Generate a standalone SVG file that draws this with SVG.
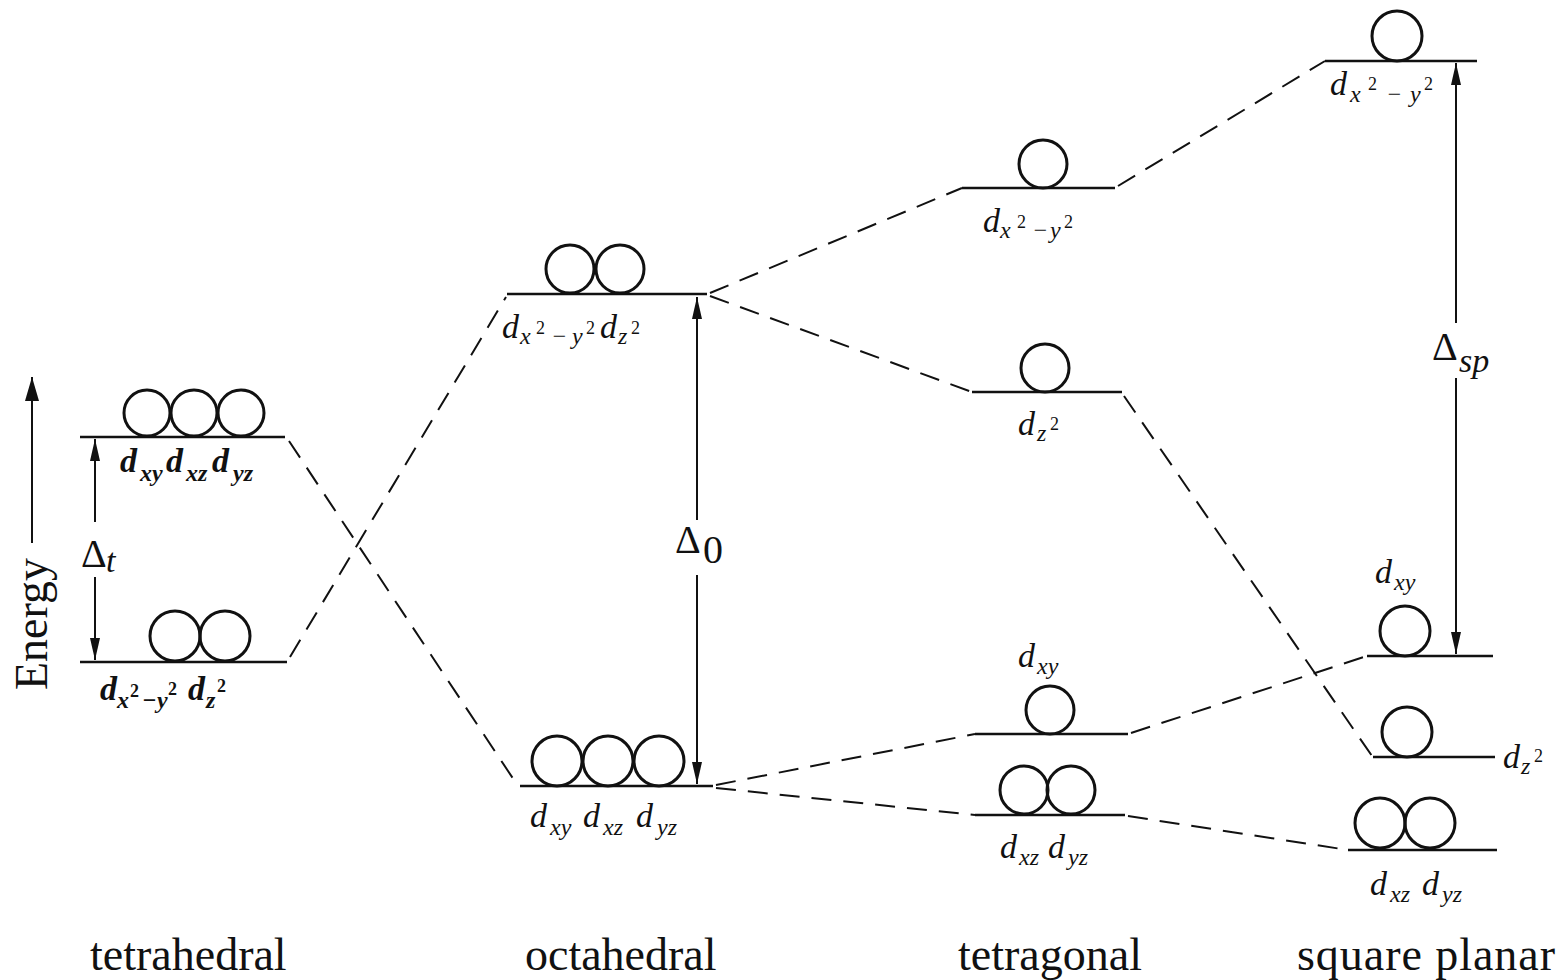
<svg xmlns="http://www.w3.org/2000/svg" width="1560" height="980" viewBox="0 0 1560 980">
<defs>
<marker id="ah" viewBox="0 0 22 10" refX="22" refY="5" markerWidth="22" markerHeight="10" markerUnits="userSpaceOnUse" orient="auto"><path d="M0,0 L22,5 L0,10 z" fill="#111"/></marker>
<marker id="ahE" viewBox="0 0 24 14" refX="24" refY="7" markerWidth="24" markerHeight="14" markerUnits="userSpaceOnUse" orient="auto"><path d="M0,0 L24,7 L0,14 z" fill="#111"/></marker>
</defs>
<style>
.lv{stroke:#111;stroke-width:2.6;fill:none}
.orb{stroke:#111;stroke-width:3;fill:none}
.dash{stroke:#111;stroke-width:2;stroke-dasharray:20 12;fill:none}
.arr{stroke:#111;stroke-width:2;fill:none}
.lbl{font-family:"Liberation Serif",serif;font-style:italic;font-size:34px;fill:#111}
.b{font-weight:bold}
.sb{font-size:24px}
.sp{font-size:18px;font-style:normal}
.dl{font-family:"Liberation Serif",serif;font-size:40px;fill:#111}
.ttl{font-family:"Liberation Serif",serif;font-size:46px;fill:#111}
</style>
<rect width="1560" height="980" fill="#fff"/>

<g id="connectors">
<line class="dash" x1="289" y1="441" x2="518" y2="786"/>
<line class="dash" x1="290" y1="657" x2="506" y2="297"/>
<line class="dash" x1="710" y1="293" x2="962" y2="188"/>
<line class="dash" x1="710" y1="296" x2="972" y2="392"/>
<line class="dash" x1="716" y1="785" x2="975" y2="734"/>
<line class="dash" x1="716" y1="788" x2="975" y2="815"/>
<line class="dash" x1="1118" y1="186" x2="1325" y2="61"/>
<line class="dash" x1="1124" y1="396" x2="1372" y2="756"/>
<line class="dash" x1="1131" y1="733" x2="1367" y2="656"/>
<line class="dash" x1="1128" y1="816" x2="1348" y2="850"/>
</g>

<g id="energy-axis">
<line class="arr" x1="32" y1="543" x2="32" y2="377" marker-end="url(#ahE)"/>
<text class="ttl" transform="translate(47,690) rotate(-90)" font-size="44">Energy</text>
</g>

<g id="tetra-t2">
<line class="lv" x1="80" y1="437" x2="285" y2="437"/>
<circle class="orb" cx="147" cy="413" r="23"/>
<circle class="orb" cx="194" cy="413" r="23"/>
<circle class="orb" cx="241" cy="413" r="23"/>
<text class="lbl b"><tspan x="120" y="472">d</tspan><tspan class="sb" x="140" y="481">xy</tspan><tspan x="166" y="472">d</tspan><tspan class="sb" x="186" y="481">xz</tspan><tspan x="212" y="472">d</tspan><tspan class="sb" x="233" y="481">yz</tspan></text>
</g>

<g id="tetra-e">
<line class="lv" x1="80" y1="662" x2="287" y2="662"/>
<circle class="orb" cx="175" cy="636" r="25"/>
<circle class="orb" cx="225" cy="636" r="25"/>
<text class="lbl b"><tspan x="100" y="700">d</tspan><tspan class="sb" x="117" y="708">x</tspan><tspan class="sp" x="130" y="697">2</tspan><tspan class="sb" x="142" y="708">−</tspan><tspan class="sb" x="157" y="708">y</tspan><tspan class="sp" x="168" y="695">2</tspan><tspan x="188" y="700">d</tspan><tspan class="sb" x="206" y="708">z</tspan><tspan class="sp" x="217" y="692">2</tspan></text>
</g>

<g id="delta-t">
<line class="arr" x1="95" y1="522" x2="95" y2="439" marker-end="url(#ah)"/>
<line class="arr" x1="95" y1="577" x2="95" y2="660" marker-end="url(#ah)"/>
<text class="dl" x="81" y="567" font-size="36">Δ</text>
<text class="lbl" x="106" y="572" font-size="22">t</text>
</g>

<g id="octa-eg">
<line class="lv" x1="507" y1="294" x2="707" y2="294"/>
<circle class="orb" cx="570" cy="269" r="24"/>
<circle class="orb" cx="620" cy="269" r="24"/>
<text class="lbl"><tspan x="502" y="338">d</tspan><tspan class="sb" x="520" y="344">x</tspan><tspan class="sp" x="536" y="334">2</tspan><tspan class="sb" x="551" y="344">−</tspan><tspan class="sb" x="572" y="344">y</tspan><tspan class="sp" x="586" y="334">2</tspan><tspan x="600" y="338">d</tspan><tspan class="sb" x="618" y="344">z</tspan><tspan class="sp" x="631" y="334">2</tspan></text>
</g>

<g id="octa-t2g">
<line class="lv" x1="520" y1="786" x2="713" y2="786"/>
<circle class="orb" cx="557" cy="761" r="25"/>
<circle class="orb" cx="608" cy="761" r="25"/>
<circle class="orb" cx="659" cy="761" r="25"/>
<text class="lbl"><tspan x="530" y="827">d</tspan><tspan class="sb" x="550" y="835">xy</tspan><tspan x="583" y="827">d</tspan><tspan class="sb" x="603" y="835">xz</tspan><tspan x="636" y="827">d</tspan><tspan class="sb" x="657" y="835">yz</tspan></text>
</g>

<g id="delta-o">
<line class="arr" x1="697" y1="520" x2="697" y2="297" marker-end="url(#ah)"/>
<line class="arr" x1="697" y1="575" x2="697" y2="784" marker-end="url(#ah)"/>
<text class="dl" x="675" y="553">Δ</text>
<text class="dl" x="703" y="563" font-size="23">0</text>
</g>

<g id="tetragonal-x2y2">
<line class="lv" x1="962" y1="188" x2="1115" y2="188"/>
<circle class="orb" cx="1043" cy="164" r="24"/>
<text class="lbl"><tspan x="983" y="232">d</tspan><tspan class="sb" x="1000" y="238">x</tspan><tspan class="sp" x="1017" y="228">2</tspan><tspan class="sb" x="1032" y="238">−</tspan><tspan class="sb" x="1050" y="238">y</tspan><tspan class="sp" x="1064" y="228">2</tspan></text>
</g>

<g id="tetragonal-z2">
<line class="lv" x1="972" y1="392" x2="1122" y2="392"/>
<circle class="orb" cx="1045" cy="368" r="24"/>
<text class="lbl"><tspan x="1018" y="435">d</tspan><tspan class="sb" x="1037" y="441">z</tspan><tspan class="sp" x="1050" y="430">2</tspan></text>
</g>

<g id="tetragonal-xy">
<line class="lv" x1="975" y1="734" x2="1128" y2="734"/>
<circle class="orb" cx="1050" cy="710" r="24"/>
<text class="lbl"><tspan x="1018" y="667">d</tspan><tspan class="sb" x="1037" y="674">xy</tspan></text>
</g>

<g id="tetragonal-xzyz">
<line class="lv" x1="975" y1="815" x2="1125" y2="815"/>
<circle class="orb" cx="1024" cy="790" r="24"/>
<circle class="orb" cx="1071" cy="790" r="24"/>
<text class="lbl"><tspan x="1000" y="858">d</tspan><tspan class="sb" x="1019" y="865">xz</tspan><tspan x="1048" y="858">d</tspan><tspan class="sb" x="1068" y="865">yz</tspan></text>
</g>

<g id="sq-x2y2">
<line class="lv" x1="1325" y1="61" x2="1477" y2="61"/>
<circle class="orb" cx="1397" cy="36" r="25"/>
<text class="lbl"><tspan x="1330" y="95">d</tspan><tspan class="sb" x="1350" y="102">x</tspan><tspan class="sp" x="1368" y="90">2</tspan><tspan class="sb" x="1386" y="102">−</tspan><tspan class="sb" x="1410" y="102">y</tspan><tspan class="sp" x="1424" y="90">2</tspan></text>
</g>

<g id="delta-sp">
<line class="arr" x1="1456" y1="323" x2="1456" y2="63" marker-end="url(#ah)"/>
<line class="arr" x1="1456" y1="378" x2="1456" y2="654" marker-end="url(#ah)"/>
<text class="dl" x="1432" y="360">Δ</text>
<text class="lbl" x="1459" y="372" font-size="24">sp</text>
</g>

<g id="sq-xy">
<line class="lv" x1="1367" y1="656" x2="1493" y2="656"/>
<circle class="orb" cx="1405" cy="631" r="25"/>
<text class="lbl"><tspan x="1375" y="583">d</tspan><tspan class="sb" x="1394" y="590">xy</tspan></text>
</g>

<g id="sq-z2">
<line class="lv" x1="1373" y1="757" x2="1495" y2="757"/>
<circle class="orb" cx="1407" cy="732" r="25"/>
<text class="lbl"><tspan x="1503" y="768">d</tspan><tspan class="sb" x="1521" y="774">z</tspan><tspan class="sp" x="1534" y="762">2</tspan></text>
</g>

<g id="sq-xzyz">
<line class="lv" x1="1348" y1="850" x2="1497" y2="850"/>
<circle class="orb" cx="1380" cy="823" r="25"/>
<circle class="orb" cx="1430" cy="823" r="25"/>
<text class="lbl"><tspan x="1370" y="895">d</tspan><tspan class="sb" x="1390" y="902">xz</tspan><tspan x="1422" y="895">d</tspan><tspan class="sb" x="1442" y="902">yz</tspan></text>
</g>

<g id="titles">
<text class="ttl" x="90" y="970">tetrahedral</text>
<text class="ttl" x="525" y="970">octahedral</text>
<text class="ttl" x="958" y="970">tetragonal</text>
<text class="ttl" x="1297" y="970" textLength="258">square planar</text>
</g>
</svg>
